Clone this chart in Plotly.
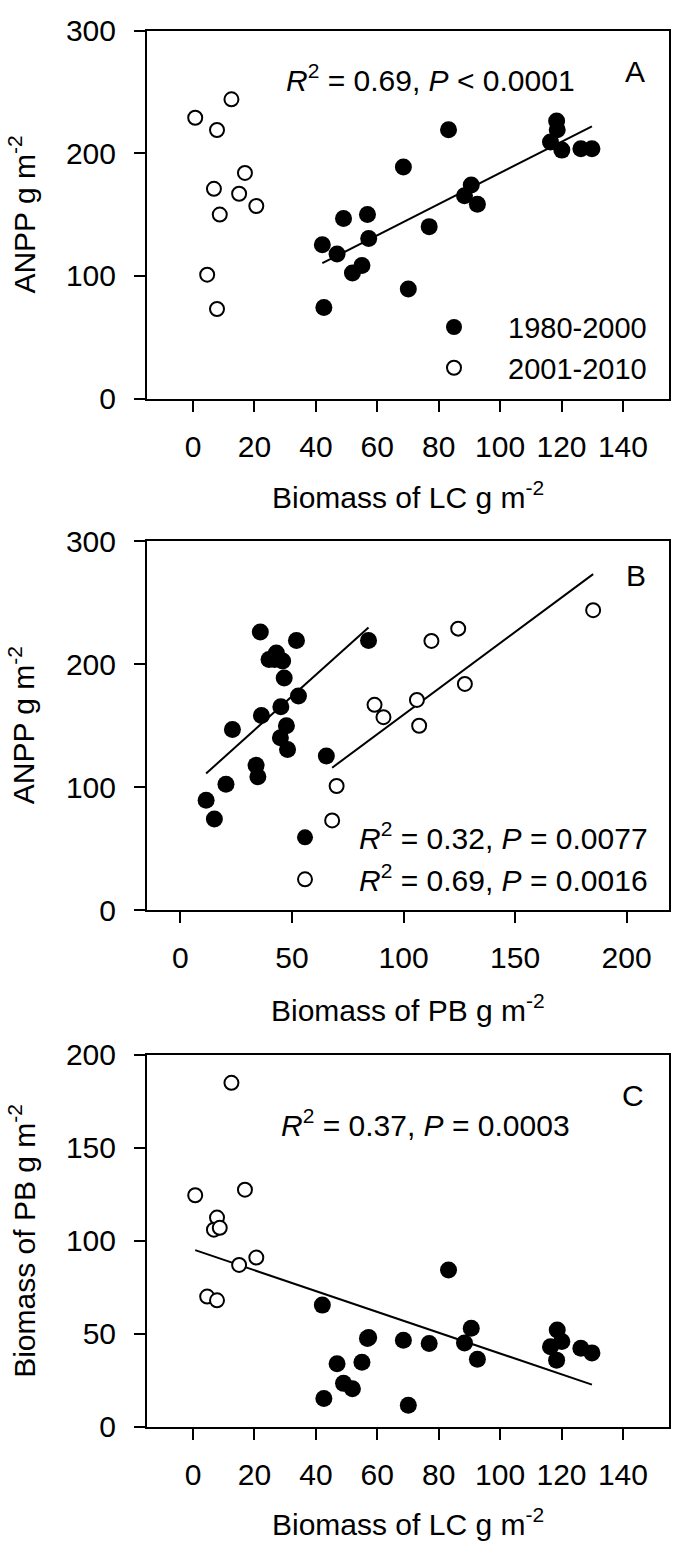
import numpy as np
import plotly.graph_objects as go

W, H = 675, 1564

# ---- data: 1980-2000 (filled) ----
lc_early = [83.2, 68.5, 118.4, 118.6, 116.4, 120.1, 126.3, 129.9, 90.6, 88.4, 92.6,
            76.9, 49.0, 56.8, 57.2, 42.1, 46.9, 55.0, 51.9, 70.1, 42.6]
pb_early = [84.3, 46.5, 35.8, 52.0, 43.0, 45.8, 42.2, 39.7, 52.9, 45.0, 36.3,
            44.8, 23.3, 47.5, 48.0, 65.4, 33.9, 34.7, 20.4, 11.5, 15.2]
anpp_early = [219.3, 188.8, 226.3, 219.3, 209.2, 202.6, 203.8, 203.8, 174.2, 165.4, 158.4,
              140.2, 146.9, 150.0, 130.6, 125.4, 117.8, 108.5, 102.4, 89.4, 74.2]

# ---- data: 2001-2010 (open) ----
lc_late = [12.5, 0.7, 7.8, 16.9, 6.8, 15.0, 20.6, 8.7, 4.6, 7.8]
pb_late = [185.0, 124.5, 112.5, 127.5, 106.0, 87.0, 91.0, 107.0, 70.0, 68.0]
anpp_late = [244.0, 229.0, 219.0, 184.0, 171.0, 167.0, 157.0, 150.0, 101.0, 73.0]

lc_ticks = [0, 20, 40, 60, 80, 100, 120, 140]
pb_ticks = [0, 50, 100, 150, 200]
anpp_ticks = [0, 100, 200, 300]
pb_yticks = [0, 50, 100, 150, 200]

label_early = "1980-2000"
label_late = "2001-2010"
stat_a = "<i>R</i><sup>2</sup> = 0.69, <i>P</i> &lt; 0.0001"
stat_b_early = "<i>R</i><sup>2</sup> = 0.32, <i>P</i> = 0.0077"
stat_b_late = "<i>R</i><sup>2</sup> = 0.69, <i>P</i> = 0.0016"
stat_c = "<i>R</i><sup>2</sup> = 0.37, <i>P</i> = 0.0003"

FONT = "Liberation Sans, Arial, sans-serif"
FS = 30


def px(x):
    return x / W


def py(y):
    return 1 - y / H


def fit_line(x, y):
    x = np.asarray(x, float)
    y = np.asarray(y, float)
    k, b = np.polyfit(x, y, 1)
    xs = np.array([x.min(), x.max()])
    return xs, k * xs + b


filled = dict(color="black", size=17, line=dict(color="black", width=0))
hollow = dict(color="white", size=14, line=dict(color="black", width=2))
line_style = dict(color="black", width=2)

fig = go.Figure()

# Panel A
xa, ya = fit_line(lc_early, anpp_early)
fig.add_trace(go.Scatter(x=xa, y=ya, mode="lines", line=line_style, showlegend=False,
                         xaxis="x", yaxis="y"))
fig.add_trace(go.Scatter(x=lc_early, y=anpp_early, mode="markers", marker=filled,
                         name=label_early, legend="legend", xaxis="x", yaxis="y"))
fig.add_trace(go.Scatter(x=lc_late, y=anpp_late, mode="markers", marker=hollow,
                         name=label_late, legend="legend", xaxis="x", yaxis="y"))

# Panel B
xb1, yb1 = fit_line(pb_early, anpp_early)
xb2, yb2 = fit_line(pb_late, anpp_late)
fig.add_trace(go.Scatter(x=xb1, y=yb1, mode="lines", line=line_style, showlegend=False,
                         xaxis="x2", yaxis="y2"))
fig.add_trace(go.Scatter(x=xb2, y=yb2, mode="lines", line=line_style, showlegend=False,
                         xaxis="x2", yaxis="y2"))
fig.add_trace(go.Scatter(x=pb_early, y=anpp_early, mode="markers", marker=filled,
                         name=stat_b_early, legend="legend2", xaxis="x2", yaxis="y2"))
fig.add_trace(go.Scatter(x=pb_late, y=anpp_late, mode="markers", marker=hollow,
                         name=stat_b_late, legend="legend2", xaxis="x2", yaxis="y2"))

# Panel C
xc, yc = fit_line(lc_early + lc_late, pb_early + pb_late)
fig.add_trace(go.Scatter(x=xc, y=yc, mode="lines", line=line_style, showlegend=False,
                         xaxis="x3", yaxis="y3"))
fig.add_trace(go.Scatter(x=lc_early, y=pb_early, mode="markers", marker=filled,
                         showlegend=False, xaxis="x3", yaxis="y3"))
fig.add_trace(go.Scatter(x=lc_late, y=pb_late, mode="markers", marker=hollow,
                         showlegend=False, xaxis="x3", yaxis="y3"))


def axis(**kw):
    d = dict(showline=True, linecolor="black", linewidth=2, mirror=True,
             ticks="outside", ticklen=11, tickwidth=2, tickcolor="black",
             showgrid=False, zeroline=False,
             tickfont=dict(family=FONT, size=FS, color="black"))
    d.update(kw)
    return d


XDOM = [px(147), px(669)]
XSTAND = 9
YSTAND = 12

fig.update_layout(
    width=W, height=H,
    margin=dict(l=0, r=0, t=0, b=0),
    paper_bgcolor="white", plot_bgcolor="white",
    font=dict(family=FONT, size=FS, color="black"),
    xaxis=axis(domain=XDOM, anchor="y", range=[-15, 155], tickvals=lc_ticks,
               ticklabelstandoff=XSTAND),
    yaxis=axis(domain=[py(390), py(14)], anchor="x", range=[0, 300], tickvals=anpp_ticks,
               ticklabelstandoff=YSTAND),
    xaxis2=axis(domain=XDOM, anchor="y2", range=[-15, 219], tickvals=pb_ticks,
                ticklabelstandoff=XSTAND),
    yaxis2=axis(domain=[py(913), py(536)], anchor="x2", range=[0, 300], tickvals=anpp_ticks,
                ticklabelstandoff=YSTAND),
    xaxis3=axis(domain=XDOM, anchor="y3", range=[-15, 155], tickvals=lc_ticks,
                ticklabelstandoff=XSTAND),
    yaxis3=axis(domain=[py(1441), py(1061)], anchor="x3", range=[0, 200], tickvals=pb_yticks,
                ticklabelstandoff=YSTAND),
    legend=dict(x=px(400), y=py(291), xanchor="left", yanchor="top",
                bgcolor="rgba(0,0,0,0)", borderwidth=0, itemwidth=98,
                font=dict(family=FONT, size=29, color="black"), traceorder="normal"),
    legend2=dict(x=px(251), y=py(812), xanchor="left", yanchor="top",
                 bgcolor="rgba(0,0,0,0)", borderwidth=0, itemwidth=98,
                 font=dict(family=FONT, size=FS, color="black"), traceorder="normal"),
)

ann = []


def text(x, y, s, **kw):
    d = dict(x=px(x), y=py(y), xref="paper", yref="paper", text=s, showarrow=False,
             font=dict(family=FONT, size=FS, color="black"), xanchor="center",
             yanchor="middle")
    d.update(kw)
    ann.append(d)


# stats and panel letters
text(430, 62, stat_a)
text(635, 56, "A")
text(636, 571, "B")
text(425, 1131, stat_c)
text(633, 1102, "C")

# axis titles
text(22, 202, "ANPP g m<sup>-2</sup>", textangle=-90)
text(22, 724, "ANPP g m<sup>-2</sup>", textangle=-90)
text(22, 1251, "Biomass of PB g m<sup>-2</sup>", textangle=-90)
text(408, 489, "Biomass of LC g m<sup>-2</sup>")
text(408, 1013, "Biomass of PB g m<sup>-2</sup>")
text(408, 1538, "Biomass of LC g m<sup>-2</sup>")

fig.update_layout(annotations=ann)

fig.write_html(
    "out.html",
    config={"displayModeBar": False, "responsive": False},
    post_script="document.body.style.margin='0px';document.body.style.overflow='hidden';",
)
